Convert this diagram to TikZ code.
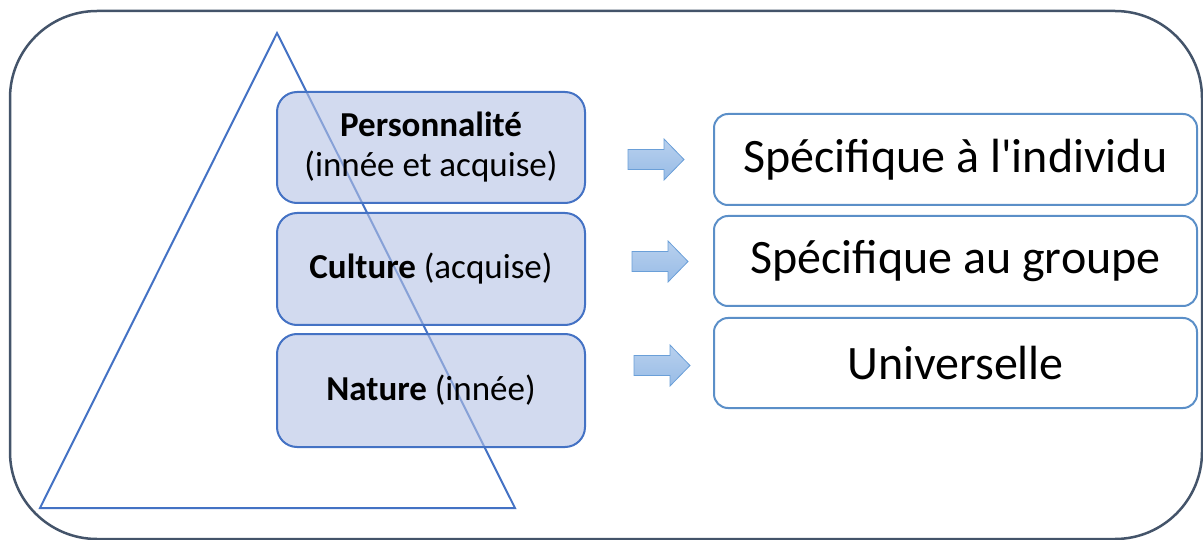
\documentclass[tikz,border=0pt]{standalone}
\usepackage{fontspec}
\setmainfont{Carlito}
\definecolor{outerc}{HTML}{44546A}
\definecolor{triC}{HTML}{4472C4}
\definecolor{boxfill}{HTML}{B4C1E4}
\definecolor{rbox}{HTML}{5B8FC8}
\definecolor{arrline}{HTML}{6A9FD8}
\definecolor{arrtop}{HTML}{B8D0EE}
\definecolor{arrbot}{HTML}{98BCE6}
\tikzset{
  leftbox/.style={draw=triC, line width=2pt, fill=boxfill, fill opacity=0.6, text opacity=1,
    rounded corners=20pt, minimum width=308pt, inner sep=0pt, outer sep=0pt, align=center,
    font=\fontsize{35}{40}\selectfont, text=black},
  rightbox/.style={draw=rbox, line width=2pt, fill=white, rounded corners=14pt,
    minimum width=483pt, inner sep=0pt, outer sep=0pt, font=\fontsize{48}{52}\selectfont, text=black},
  barrow/.pic={\path[draw=arrline, line width=0.8pt, top color=arrtop, bottom color=arrbot]
    (0,-10) -- (36,-10) -- (36,-20.5) -- (56,0) -- (36,20.5) -- (36,10) -- (0,10) -- cycle;}
}
\begin{document}
\begin{tikzpicture}[x=1pt,y=-1pt]
\useasboundingbox (0,0) rectangle (1203,540);
\draw[outerc, line width=2.5pt, rounded corners=87pt] (10,11) rectangle (1202,539);
\coordinate (apex) at (277,33);
\coordinate (bl) at (40,508);
\coordinate (br) at (515,508);
\draw[triC, line width=2pt, line join=miter] (apex) -- (br) -- (bl) -- cycle;
\node[leftbox, minimum height=111pt] (pers) at (431,147.5) {\textbf{Personnalité}\\(innée et acquise)};
\node[leftbox, minimum height=112pt] (cult) at (431,269) {\textbf{Culture} (acquise)};
\node[leftbox, minimum height=113pt] (nat) at (431,390.5) {\textbf{Nature} (innée)};
\node[rightbox, minimum height=91pt] (indiv) at (955.5,159.5) {Spécifique à l\textquotesingle individu};
\node[rightbox, minimum height=90pt] (grp) at (955.5,261) {Spécifique au groupe};
\node[rightbox, minimum height=90pt] (univ) at (955.5,363) {Universelle};
\pic at (628,159.5) {barrow};
\pic at (632,261.5) {barrow};
\pic at (634,365.5) {barrow};
\end{tikzpicture}
\end{document}
